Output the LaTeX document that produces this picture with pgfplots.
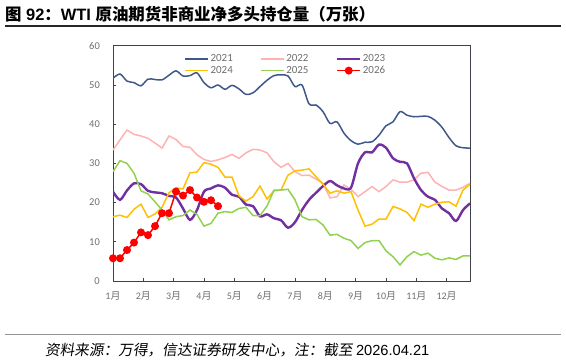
\documentclass[border=0pt]{standalone}
\usepackage{pgfplots}
\pgfplotsset{compat=1.18}
\usepackage{pgfplotstable}
\usepackage{fontspec}
\setmainfont{Liberation Sans}
\newfontfamily\cjk{Noto Sans CJK SC}
\newfontfamily\cjkslant{Noto Sans CJK SC}[FakeSlant=0.15]
\newfontfamily\calib{Carlito}

\definecolor{c21}{RGB}{62,88,138}
\definecolor{c22}{RGB}{255,178,178}
\definecolor{c23}{RGB}{112,48,160}
\definecolor{c24}{RGB}{255,192,0}
\definecolor{c25}{RGB}{146,208,80}
\definecolor{c26}{RGB}{255,0,0}
\definecolor{lblgray}{RGB}{110,110,110}
\definecolor{axisgray}{RGB}{64,64,72}

% weekly net long positions, 10k contracts
\pgfplotstableread{
w  a21  a22  a23  a24  a25
0  51.7 33.4 22.8 16.4 27.9
1  52.8 36.0 20.7 16.8 30.7
2  51.0 38.5 23.1 16.2 30.0
3  50.6 37.4 24.9 18.3 27.5
4  49.8 37.0 24.7 19.6 23.0
5  51.5 36.4 23.0 16.2 22.2
6  51.4 35.2 22.6 17.1 20.2
7  51.3 33.9 22.4 18.8 18.1
8  52.5 37.0 21.7 22.5 15.6
9  53.6 36.1 21.3 23.8 16.4
10 52.3 34.3 18.5 23.5 16.7
11 52.4 34.1 15.6 27.6 18.1
12 53.1 32.2 18.1 27.8 17.0
13 50.6 31.0 22.8 30.2 14.0
14 49.3 30.5 23.6 29.8 14.7
15 50.0 30.9 24.4 29.0 17.3
16 48.9 31.5 23.8 26.5 17.7
17 49.9 32.3 22.0 26.5 17.5
18 49.0 31.3 21.5 21.7 18.5
19 47.6 32.7 19.5 20.4 18.8
20 48.0 33.6 19.1 21.5 16.7
21 49.6 33.4 16.5 24.2 16.7
22 51.2 32.7 17.0 20.9 19.1
23 52.4 30.4 16.0 23.0 23.2
24 52.6 29.0 15.5 23.2 23.2
25 52.3 30.0 13.6 27.0 23.4
26 49.6 27.9 15.0 28.1 20.7
27 50.0 26.9 18.1 28.3 16.4
28 45.2 27.0 20.7 28.6 15.6
29 44.9 26.0 22.5 26.6 15.7
30 43.2 24.9 24.2 24.7 14.3
31 40.2 21.2 25.5 22.4 11.7
32 40.6 21.5 24.4 23.0 11.9
33 37.7 24.5 23.6 22.4 10.9
34 35.8 23.4 23.8 22.8 10.3
35 34.9 21.5 30.0 18.1 8.3
36 35.4 22.8 32.8 14.0 9.8
37 35.5 24.1 32.8 14.5 10.3
38 37.2 22.8 34.8 15.8 10.3
39 39.6 24.1 34.0 15.8 7.7
40 40.6 25.8 31.3 19.0 6.2
41 43.2 25.2 30.4 18.4 4.1
42 42.3 25.2 30.0 17.5 6.2
43 41.9 25.8 26.2 15.4 7.5
44 42.0 27.5 23.2 19.6 6.6
45 42.0 27.7 21.5 18.8 7.1
46 41.0 25.2 20.7 19.6 5.8
47 39.2 24.1 18.5 20.1 5.4
48 36.6 23.2 17.3 20.2 5.9
49 34.5 23.2 15.3 19.1 5.5
50 34.0 23.9 18.1 23.2 6.4
51 33.9 24.9 19.8 24.7 6.4
}\hist

\pgfplotstableread{
w  a26
0  5.8
1  5.8
2  7.9
3  9.8
4  12.4
5  11.7
6  14.0
7  17.3
8  17.3
9  22.8
10 21.8
11 23.2
12 21.3
13 20.2
14 20.6
15 19.1
}\cur

\begin{document}
\begin{tikzpicture}
\useasboundingbox (0bp,0bp) rectangle (566bp,360bp);
\begin{axis}[
  at={(113bp,79bp)}, anchor=south west,
  scale only axis, width=357bp, height=235.2bp,
  xmin=0, xmax=51, ymin=0, ymax=60,
  axis line style={draw=axisgray, line width=0.9bp},
  tick align=inside, tick pos=left,
  major tick length=3bp,
  tick style={draw=axisgray, line width=0.8bp},
  ytick={0,10,...,60},
  xtick={0,4.333,8.667,13,17.333,21.667,26,30.333,34.667,39,43.333,47.667},
  xticklabels={1{\cjk 月},2{\cjk 月},3{\cjk 月},4{\cjk 月},5{\cjk 月},6{\cjk 月},7{\cjk 月},8{\cjk 月},9{\cjk 月},10{\cjk 月},11{\cjk 月},12{\cjk 月}},
  /pgf/number format/assume math mode=true,
  yticklabel style={font=\calib\fontsize{10.5}{12}\selectfont, text=lblgray, inner sep=0pt, anchor=east, xshift=-13bp},
  xticklabel style={font=\calib\fontsize{10}{12}\selectfont, text=lblgray, inner sep=0pt, anchor=north, yshift=-10bp},
  legend columns=3,
  legend cell align=left,
  legend style={at={(axis description cs:0.2,0.97)}, anchor=north west,
    draw=none, fill=none, inner sep=0pt,
    font=\calib\fontsize{11}{12.5}\selectfont, text=lblgray,
    nodes={inner sep=1.5bp},
    /tikz/every even column/.append style={column sep=26bp}},
  legend image code/.code={\draw[mark repeat=2,mark phase=2,#1] plot coordinates {(0bp,0bp) (11.5bp,0bp) (23bp,0bp)};},
]
\addplot[c21, line width=1.5bp, smooth, no markers] table[x=w,y=a21] {\hist};
\addlegendentry{2021}
\addplot[c22, line width=1.5bp, no markers] table[x=w,y=a22] {\hist};
\addlegendentry{2022}
\addplot[c23, line width=2.4bp, smooth, no markers] table[x=w,y=a23] {\hist};
\addlegendentry{2023}
\addplot[c24, line width=1.5bp, no markers] table[x=w,y=a24] {\hist};
\addlegendentry{2024}
\addplot[c25, line width=1.5bp, no markers] table[x=w,y=a25] {\hist};
\addlegendentry{2025}
\addplot[c26, line width=1.5bp, mark=*, mark size=3.2bp, mark options={fill=c26, draw=c26}] table[x=w,y=a26] {\cur};
\addlegendentry{2026}
\end{axis}

% title and rules
\node[anchor=base west, inner sep=0pt] at (5bp,339bp)
  {\fontsize{16.5}{18}\selectfont\bfseries{\cjk 图} 92{\cjk ：}WTI {\cjk 原油期货非商业净多头持仓量（万张）}};
\draw[line width=1.3bp, black!85] (5bp,334bp) -- (561bp,334bp);
\draw[line width=1bp, gray!85] (5bp,25bp) -- (561bp,25bp);
\node[anchor=base west, inner sep=0pt] at (45bp,5bp)
  {\fontsize{14.7}{16}\selectfont{\cjkslant 资料来源：万得，信达证券研发中心，注：截至 }2026.04.21};
\end{tikzpicture}
\end{document}
